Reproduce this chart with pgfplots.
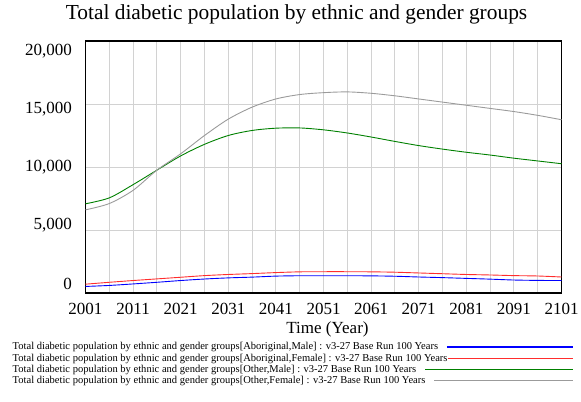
\documentclass[border=0pt]{standalone}
\usepackage{pgfplots}
\pgfplotsset{compat=1.18}
\usepackage{fontspec}
\setmainfont{Liberation Serif}
\definecolor{cblue}{RGB}{0,0,255}
\definecolor{cred}{RGB}{255,45,45}
\definecolor{cgreen}{RGB}{0,128,0}
\definecolor{cgray}{RGB}{155,155,155}
\definecolor{cgrid}{RGB}{210,210,210}
\newcommand{\rb}[2]{\raisebox{#1}[\height][\depth]{#2}}
\begin{document}
\begin{tikzpicture}
\path[use as bounding box] (-85.5bp,-109bp) rectangle (495.5bp,293bp);
\begin{axis}[
  at={(0,0)}, anchor=south west,
  scale only axis, width=476bp, height=252bp,
  xmin=2001, xmax=2101, ymin=0, ymax=20000,
  scaled y ticks=false, scaled x ticks=false,
  axis line style={black, line width=1.6bp},
  xtick={2001,2011,2021,2031,2041,2051,2061,2071,2081,2091,2101},
  xticklabels={2001,2011,2021,2031,2041,2051,2061,2071,2081,2091,2101},
  minor xtick={2006,2016,2026,2036,2046,2056,2066,2076,2086,2096},
  ytick={0,5000,10000,15000,20000},
  yticklabels={\rb{9.5bp}{0},\rb{4.5bp}{5,000},{10,000},\rb{-5.5bp}{15,000},\rb{-10.5bp}{20,000}},
  major tick length=0pt, minor tick length=0pt,
  grid=both,
  major grid style={cgrid, line width=0.9bp},
  minor grid style={cgrid, line width=0.9bp},
  tick label style={font=\fontsize{17bp}{20bp}\selectfont},
  xticklabel style={anchor=base, inner sep=0pt, yshift=-21bp},
  yticklabel style={anchor=east, inner sep=0pt, xshift=-13.5bp},
  xlabel={Time (Year)},
  xlabel style={font=\fontsize{17bp}{20bp}\selectfont, at={(axis description cs:0.5,0)}, anchor=base, inner sep=0pt, yshift=-40bp, xshift=4bp},
  title={Total diabetic population by ethnic and gender groups},
  title style={font=\fontsize{21.4bp}{25bp}\selectfont, at={(axis description cs:0.5,1)}, anchor=base, inner sep=0pt, yshift=16bp, xshift=-27bp},
  legend style={at={(axis description cs:0,0)}, anchor=north west, xshift=-72.8bp, yshift=-48.35bp,
    draw=none, fill=none, inner sep=0pt, outer sep=0pt, row sep=0pt, column sep=0pt,
    font=\fontsize{10.53bp}{11.3bp}\selectfont,
    nodes={inner sep=0pt, outer sep=0pt, text height=8.5bp, text depth=2.8bp}},
  legend cell align=left,
  legend plot pos=right,
]
\addplot[cblue, line width=0.9bp, smooth, legend image code/.code={\path (0bp,0bp) -- (125.3bp,0bp); \draw[cblue,overlay,line width=1.1bp] (-1bp,0bp) -- (125.3bp,0bp);}] coordinates {
(2001,520) (2006,600) (2011,720) (2016,850) (2021,990) (2026,1110) (2031,1200) (2036,1260) (2041,1340) (2046,1370) (2051,1370) (2056,1370) (2061,1360) (2066,1330) (2071,1270) (2076,1220) (2081,1160) (2086,1100) (2091,1030) (2096,1000) (2101,990)};
\addlegendentry{Total diabetic population by ethnic and gender groups[Aboriginal,Male] : v3-27 Base Run 100 Years}
\addplot[cred, line width=0.9bp, smooth, legend image code/.code={\path (0bp,0bp) -- (125.3bp,0bp); \draw[cred,overlay,line width=1.1bp] (9bp,0bp) -- (125.3bp,0bp);}] coordinates {
(2001,700) (2006,850) (2011,990) (2016,1120) (2021,1250) (2026,1380) (2031,1470) (2036,1540) (2041,1620) (2046,1680) (2051,1690) (2056,1690) (2061,1680) (2066,1650) (2071,1590) (2076,1530) (2081,1470) (2086,1430) (2091,1380) (2096,1350) (2101,1270)};
\addlegendentry{Total diabetic population by ethnic and gender groups[Aboriginal,Female] : v3-27 Base Run 100 Years}
\addplot[cgreen, line width=0.9bp, smooth, legend image code/.code={\path (0bp,0bp) -- (125.3bp,0bp); \draw[cgreen,overlay,line width=1.1bp] (-22.7bp,0bp) -- (125.3bp,0bp);}] coordinates {
(2001,7080) (2006,7550) (2011,8600) (2016,9750) (2021,10880) (2026,11800) (2031,12500) (2036,12900) (2041,13080) (2046,13100) (2051,12950) (2056,12700) (2061,12380) (2066,12030) (2071,11700) (2076,11420) (2081,11170) (2086,10950) (2091,10700) (2096,10480) (2101,10260)};
\addlegendentry{Total diabetic population by ethnic and gender groups[Other,Male] : v3-27 Base Run 100 Years}
\addplot[cgray, line width=0.9bp, smooth, legend image code/.code={\path (0bp,0bp) -- (125.3bp,0bp); \draw[cgray,overlay,line width=1.1bp] (-13.7bp,0bp) -- (125.3bp,0bp);}] coordinates {
(2001,6600) (2006,7100) (2011,8150) (2016,9750) (2021,11050) (2026,12500) (2031,13800) (2036,14750) (2041,15400) (2046,15750) (2051,15900) (2056,15960) (2061,15850) (2066,15650) (2071,15400) (2076,15150) (2081,14900) (2086,14650) (2091,14400) (2096,14100) (2101,13750)};
\addlegendentry{Total diabetic population by ethnic and gender groups[Other,Female] : v3-27 Base Run 100 Years}
\end{axis}
\end{tikzpicture}
\end{document}
